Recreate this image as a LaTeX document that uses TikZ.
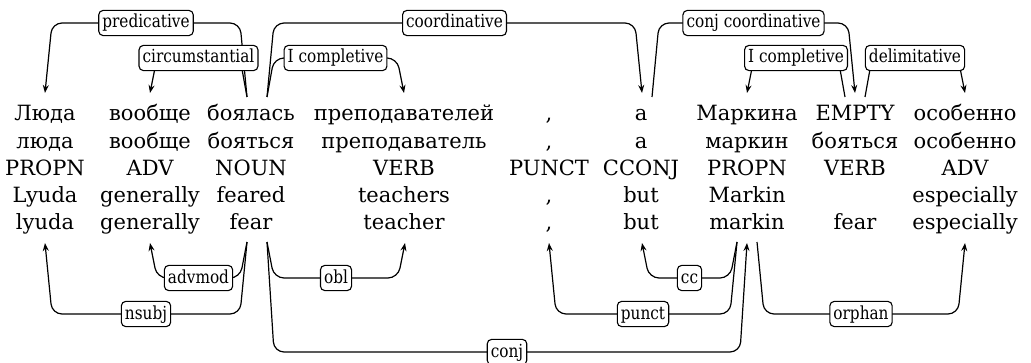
\documentclass[tikz,border=0pt]{standalone}
\usepackage{fontspec}
\setmainfont{DejaVu Serif}
\newfontfamily\labfamily[FakeStretch=0.85]{DejaVu Serif}
\usetikzlibrary{arrows.meta,calc}
\newcommand{\wordfont}{\fontsize{10.5}{13}\selectfont}
\newcommand{\labfont}{\labfamily\fontsize{9}{11}\selectfont}
\tikzset{
  word/.style={anchor=base,inner sep=0pt,font=\wordfont},
  edge/.style={draw,line width=0.6pt,rounded corners=5pt,-{Stealth[length=4pt,width=3pt]}},
  lab/.style={draw,fill=white,rounded corners=2.2pt,inner xsep=1.8pt,inner ysep=1.4pt,
    text height=0.74em,text depth=0.24em,line width=0.55pt,font=\labfont}
}
\begin{document}
\begin{tikzpicture}[x=0.5pt,y=-0.5pt]
\useasboundingbox (0,0) rectangle (1031,363);
% rows of words
\foreach \c/\x/\t in {1/45/Люда,2/150/вообще,3/251/боялась,4/404/преподавателей,5/549/{,},6/641/а,7/747/Маркина,8/855/EMPTY,9/965/особенно}
  \node[word] (a\c) at (\x,121) {\t};
\foreach \c/\x/\t in {1/45/люда,2/150/вообще,3/251/бояться,4/404/преподаватель,5/549/{,},6/641/а,7/747/маркин,8/855/бояться,9/965/особенно}
  \node[word] (b\c) at (\x,148.2) {\t};
\foreach \c/\x/\t in {1/45/PROPN,2/150/ADV,3/251/NOUN,4/404/VERB,5/549/PUNCT,6/641/CCONJ,7/747/PROPN,8/855/VERB,9/965/ADV}
  \node[word] (c\c) at (\x,175.4) {\t};
\foreach \c/\x/\t in {1/45/Lyuda,2/150/generally,3/251/feared,4/404/teachers,5/549/{,},6/641/but,7/747/Markin,9/965/especially}
  \node[word] (d\c) at (\x,202.6) {\t};
\foreach \c/\x/\t in {1/45/lyuda,2/150/generally,3/251/fear,4/404/teacher,5/549/{,},6/641/but,7/747/markin,8/855/fear,9/965/especially}
  \node[word] (e\c) at (\x,229.8) {\t};

% attachment points above the words
\coordinate (t1) at (45,93);
\coordinate (t2) at (150,93);
\coordinate (t3L) at (247,97);
\coordinate (t3R) at (267,97);
\coordinate (t4) at (404,93);
\coordinate (t6in) at (642,93);
\coordinate (t6out) at (652,97);
\coordinate (t7) at (747,93);
\coordinate (t8in) at (855,93);
\coordinate (t8L) at (845,97);
\coordinate (t8R) at (865,97);
\coordinate (t9) at (965,93);
% attachment points below the words
\coordinate (u1) at (45,243);
\coordinate (u2) at (150,243);
\coordinate (u3L) at (247,242);
\coordinate (u3R) at (267,242);
\coordinate (u4) at (405,243);
\coordinate (u5) at (549,243);
\coordinate (u6) at (642,243);
\coordinate (u7in) at (747,243);
\coordinate (u7L) at (737,242);
\coordinate (u7R) at (757,242);
\coordinate (u9) at (965,243);

% edges above
\draw[edge] (t3L) -- ($(t3L)+(-7,-74)$) -- node[lab]{predicative} ($(t1)+(7,-70)$) -- (t1);
\draw[edge] (t3L) -- ($(t3L)+(-7,-39)$) -- node[lab]{circumstantial} ($(t2)+(7,-35)$) -- (t2);
\draw[edge] (t3R) -- ($(t3R)+(7,-74)$) -- node[lab]{coordinative} ($(t6in)+(-7,-70)$) -- (t6in);
\draw[edge] (t3R) -- ($(t3R)+(7,-39)$) -- node[lab]{I completive} ($(t4)+(-7,-35)$) -- (t4);
\draw[edge] (t6out) -- ($(t6out)+(7,-74)$) -- node[lab]{conj coordinative} ($(t8in)+(-7,-70)$) -- (t8in);
\draw[edge] (t8L) -- ($(t8L)+(-7,-39)$) -- node[lab]{I completive} ($(t7)+(7,-35)$) -- (t7);
\draw[edge] (t8R) -- ($(t8R)+(7,-39)$) -- node[lab]{delimitative} ($(t9)+(-7,-35)$) -- (t9);

% edges below
\draw[edge] (u3L) -- ($(u3L)+(-7,36)$) -- node[lab]{advmod} ($(u2)+(7,35)$) -- (u2);
\draw[edge] (u3L) -- ($(u3L)+(-7,72)$) -- node[lab]{nsubj} ($(u1)+(7,71)$) -- (u1);
\draw[edge] (u3R) -- ($(u3R)+(7,36)$) -- node[lab]{obl} ($(u4)+(-7,35)$) -- (u4);
\draw[edge] (u3R) -- ($(u3R)+(7,110)$) -- node[lab]{conj} ($(u7in)+(-7,109)$) -- (u7in);
\draw[edge] (u7L) -- ($(u7L)+(-7,36)$) -- node[lab]{cc} ($(u6)+(7,35)$) -- (u6);
\draw[edge] (u7L) -- ($(u7L)+(-7,72)$) -- node[lab]{punct} ($(u5)+(7,71)$) -- (u5);
\draw[edge] (u7R) -- ($(u7R)+(7,72)$) -- node[lab]{orphan} ($(u9)+(-7,71)$) -- (u9);
\end{tikzpicture}
\end{document}
